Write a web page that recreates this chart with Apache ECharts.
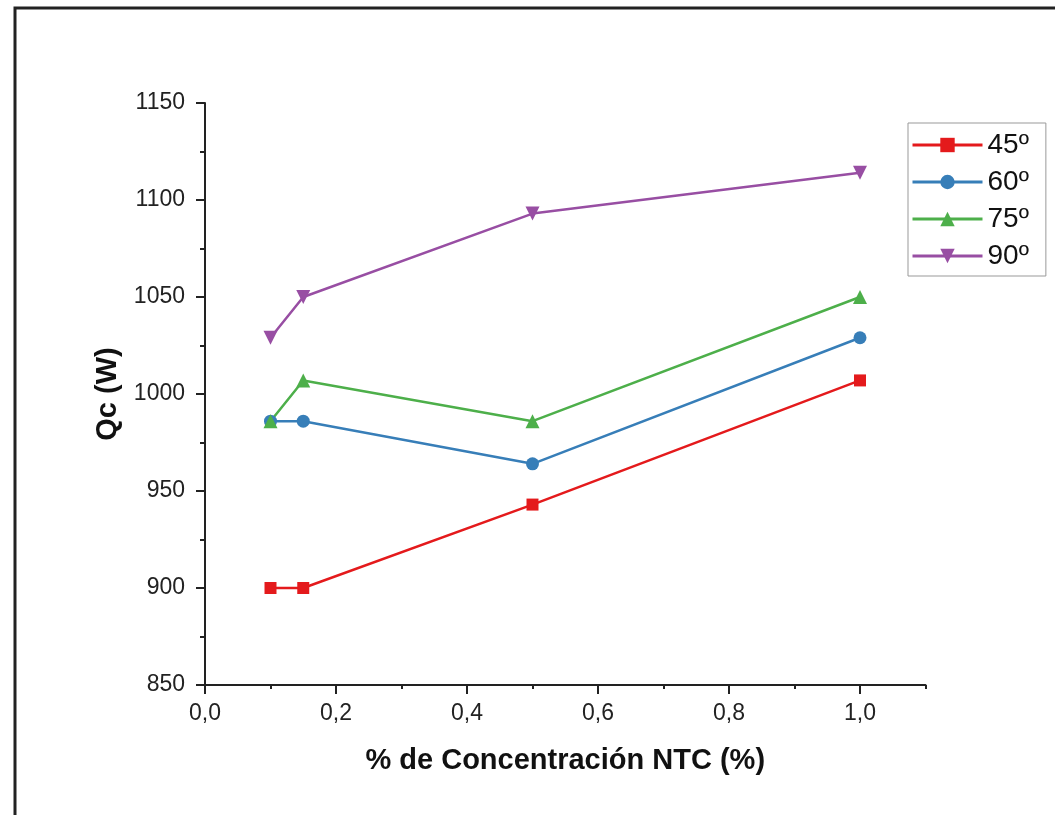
<!DOCTYPE html>
<html>
<head>
<meta charset="utf-8">
<script src="https://cdn.jsdelivr.net/npm/echarts@6/dist/echarts.min.js"></script>
<style>
html,body{margin:0;padding:0;background:#fff;}
#chart{width:1055px;height:815px;}
</style>
</head>
<body>
<div id="chart"></div>
<script>
// Data
var concentration = [0.1, 0.15, 0.5, 1.0];
var q45 = [900, 900, 943, 1007];
var q60 = [986, 986, 964, 1029];
var q75 = [986, 1007, 986, 1050];
var q90 = [1029, 1050, 1093, 1114];
var seriesNames = ['45º', '60º', '75º', '90º'];
var xMajorTicks = [0, 0.2, 0.4, 0.6, 0.8, 1.0];

var FONT = 'Liberation Sans';
var colors = ['#E41A1C', '#377EB8', '#4DAF4A', '#984EA3'];
var symbols = ['rect', 'circle', 'triangle', 'triangle'];
var symbolSizes = [12, 13, 14, 14];
var rotates = [0, 0, 0, 180];
var values = [q45, q60, q75, q90];

function pairs(arr) {
  return concentration.map(function (x, i) { return [x, arr[i]]; });
}

var chart = echarts.init(document.getElementById('chart'), null, {renderer: 'canvas'});
var option = {
  backgroundColor: '#fff',
  animation: false,
  graphic: [{
    type: 'rect',
    shape: {x: 15, y: 8, width: 1100, height: 900},
    style: {fill: 'none', stroke: '#222', lineWidth: 3},
    silent: true, z: 100
  }],
  grid: {left: 205, top: 103, right: 129.5, bottom: 130},
  legend: {
    orient: 'vertical',
    left: 908, top: 123,
    padding: [8, 17, 6, 3],
    itemWidth: 70, itemHeight: 18, itemGap: 9,
    backgroundColor: '#fff',
    borderColor: '#999', borderWidth: 1,
    lineStyle: {width: 3},
    textStyle: {fontFamily: FONT, fontSize: 28, color: '#111'},
    data: seriesNames
  },
  xAxis: [{
    type: 'value', min: 0, max: 1.1, interval: 0.1,
    axisLine: {show: true, onZero: false, lineStyle: {color: '#222', width: 2}},
    axisTick: {show: true, length: 4, lineStyle: {color: '#222', width: 2}},
    axisLabel: {show: false},
    splitLine: {show: false},
    name: '% de Concentración NTC (%)',
    nameLocation: 'middle', nameGap: 61,
    nameTextStyle: {fontFamily: FONT, fontSize: 29, fontWeight: 'bold', color: '#111'}
  }, {
    type: 'value', min: 0, max: 1.1, position: 'bottom',
    axisLine: {show: false, onZero: false},
    axisTick: {show: true, length: 9, customValues: xMajorTicks, lineStyle: {color: '#222', width: 2}},
    axisLabel: {
      show: true, margin: 17, customValues: xMajorTicks,
      fontFamily: FONT, fontSize: 23, color: '#222',
      formatter: function (v) { return v.toFixed(1).replace('.', ','); }
    },
    splitLine: {show: false}
  }],
  yAxis: {
    type: 'value', min: 850, max: 1150, interval: 50,
    axisLine: {show: true, onZero: false, lineStyle: {color: '#222', width: 2}},
    axisTick: {show: true, length: 9, lineStyle: {color: '#222', width: 2}},
    minorTick: {show: true, splitNumber: 2, length: 5, lineStyle: {color: '#222', width: 2}},
    axisLabel: {margin: 20, fontFamily: FONT, fontSize: 23, color: '#222',
      formatter: function (v) { return String(v); }},
    splitLine: {show: false},
    name: 'Qc (W)', nameLocation: 'middle', nameGap: 68,
    nameTextStyle: {fontFamily: FONT, fontSize: 29, fontWeight: 'bold', color: '#111'}
  },
  series: seriesNames.map(function (n, i) {
    return {
      name: n, type: 'line', xAxisIndex: 0,
      data: pairs(values[i]),
      symbol: symbols[i], symbolSize: symbolSizes[i], symbolRotate: rotates[i],
      showAllSymbol: true,
      itemStyle: {color: colors[i]},
      lineStyle: {color: colors[i], width: 2.5}
    };
  })
};
chart.setOption(option);
</script>
</body>
</html>
